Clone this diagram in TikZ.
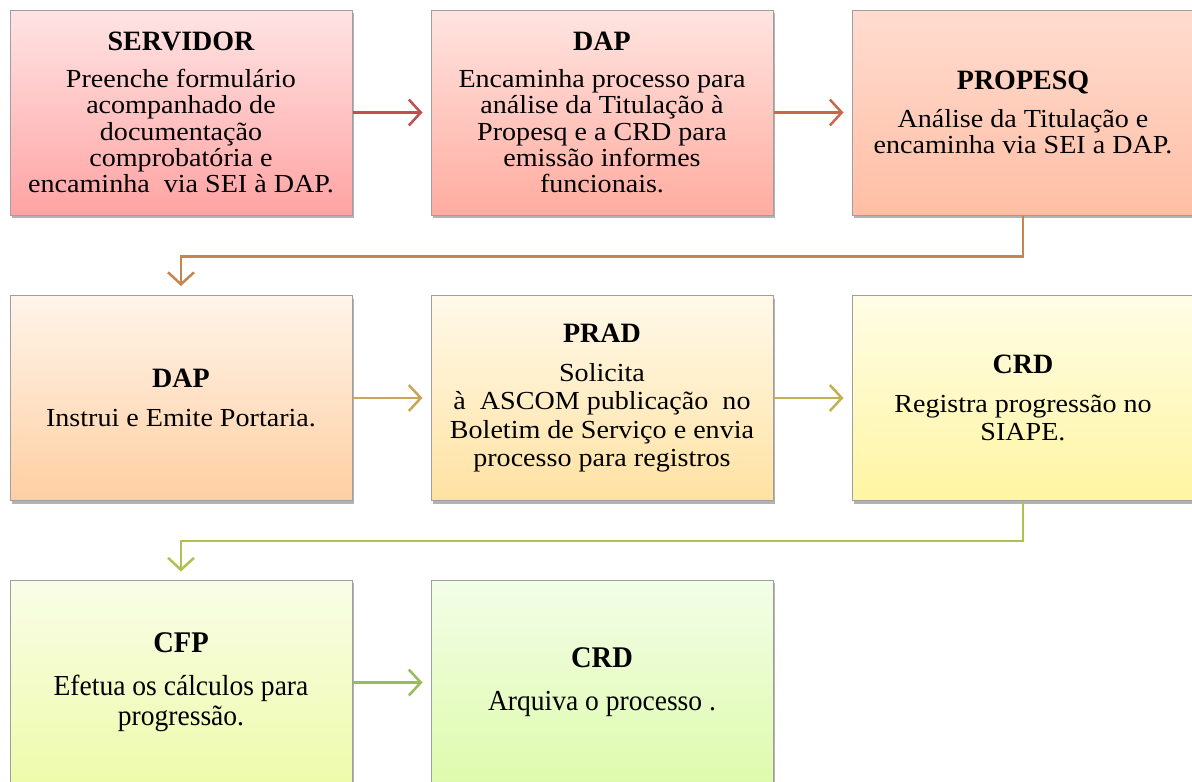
\documentclass[tikz,border=0pt]{standalone}
\usepackage{fontspec}
\setmainfont{Liberation Serif}
\newfontfamily\bodyA{Liberation Serif}[FakeStretch=1.08]
\newfontfamily\bodyC{Liberation Serif}[FakeStretch=0.95]
\usetikzlibrary{arrows.meta,shadows,calc}
\definecolor{cA}{HTML}{C0504D}
\definecolor{cB}{HTML}{C6684D}
\definecolor{cC}{HTML}{C8844D}
\definecolor{cD}{HTML}{C8A558}
\definecolor{cE}{HTML}{C0B252}
\definecolor{cF}{HTML}{B2C052}
\definecolor{cG}{HTML}{9BBB59}
\tikzset{
  box/.style={draw=gray!75, line width=1pt, minimum width=342pt, minimum height=205pt,
    inner sep=0pt, align=center, shading=axis,
    drop shadow={shadow xshift=2pt, shadow yshift=-3pt, fill=black, opacity=0.3}},
  rowA/.style={font=\bodyA\fontsize{26}{26.2}\selectfont},
  rowB/.style={font=\bodyA\fontsize{26}{28.5}\selectfont},
  rowC/.style={font=\bodyC\fontsize{29}{30}\selectfont},
  conn/.style={line width=2.5pt, -{Straight Barb[length=12pt,width=26pt,line width=2.5pt]}},
}
\newcommand{\ttlA}[1]{{\rmfamily\bfseries\fontsize{28}{28}\selectfont #1}}
\newcommand{\ttlC}[1]{{\bodyC\bfseries\fontsize{30}{30}\selectfont #1}}
\begin{document}
\begin{tikzpicture}[x=1pt,y=-1pt]
\useasboundingbox (0,0) rectangle (1192,782);
% row 1
\node[box,rowA,top color={rgb,255:red,255;green,228;blue,228},bottom color={rgb,255:red,255;green,163;blue,163}] (b1) at (181,112.5)
  {\ttlA{SERVIDOR}\\[11pt]Preenche formulário\\acompanhado de\\documentação\\comprobatória e\\encaminha\ \ via SEI à DAP.};
\node[box,rowA,top color={rgb,255:red,255;green,228;blue,224},bottom color={rgb,255:red,255;green,172;blue,160}] (b2) at (602,112.5)
  {\ttlA{DAP}\\[11pt]Encaminha processo para\\análise da Titulação à\\Propesq e a CRD para\\emissão informes\\funcionais.};
\node[box,rowA,top color={rgb,255:red,255;green,220;blue,208},bottom color={rgb,255:red,255;green,190;blue,164}] (b3) at (1023,112.5)
  {\ttlA{PROPESQ}\\[11pt]Análise da Titulação e\\encaminha via SEI a DAP.};
% row 2
\node[box,rowB,top color={rgb,255:red,255;green,244;blue,234},bottom color={rgb,255:red,255;green,207;blue,162}] (b4) at (181,398)
  {\ttlA{DAP}\\[10.5pt]Instrui e Emite Portaria.};
\node[box,rowB,top color={rgb,255:red,255;green,249;blue,234},bottom color={rgb,255:red,255;green,226;blue,162}] (b5) at (602,398)
  {\ttlA{PRAD}\\[10.5pt]Solicita\\à\ \ ASCOM publicação\ \ no\\Boletim de Serviço e envia\\processo para registros};
\node[box,rowB,top color={rgb,255:red,255;green,253;blue,230},bottom color={rgb,255:red,255;green,245;blue,162}] (b6) at (1023,398)
  {\ttlA{CRD}\\[10.5pt]Registra progressão no\\SIAPE.};
% row 3
\node[box,rowC,top color={rgb,255:red,249;green,253;blue,232},bottom color={rgb,255:red,238;green,251;blue,170}] (b7) at (181,682.5)
  {\ttlC{CFP}\\[13pt]Efetua os cálculos para\\progressão.};
\node[box,rowC,top color={rgb,255:red,243;green,253;blue,232},bottom color={rgb,255:red,222;green,251;blue,172}] (b8) at (602,682.5)
  {\ttlC{CRD}\\[13pt]Arquiva o processo .};
% connectors
\draw[conn,cA,shorten >=8pt] (b1) -- (b2);
\draw[conn,cB,shorten >=8pt] (b2) -- (b3);
\draw[conn,cC,shorten >=9pt] (b3.south) -- ++(0,41) -| (b4.north);
\draw[conn,cD,shorten >=8pt] (b4) -- (b5);
\draw[conn,cE,shorten >=8pt] (b5) -- (b6);
\draw[conn,cF,shorten >=8pt] (b6.south) -- ++(0,40) -| (b7.north);
\draw[conn,cG,shorten >=8pt] (b7) -- (b8);
\end{tikzpicture}
\end{document}
